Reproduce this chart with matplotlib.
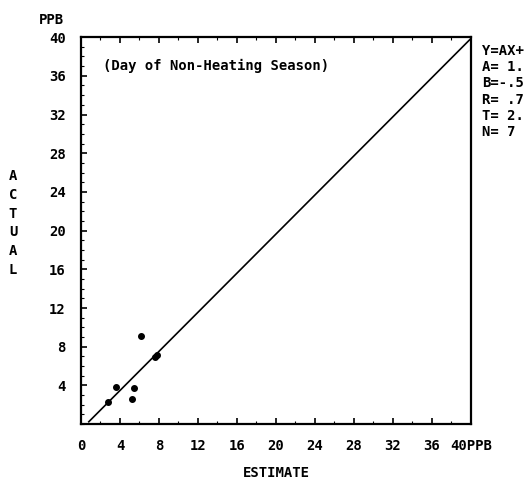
import matplotlib
matplotlib.use("Agg")
import matplotlib.pyplot as plt
import numpy as np

# observed vs estimated concentration (ppb)
estimate = [2.8, 3.6, 5.4, 5.2, 6.2, 7.6, 7.8]
actual = [2.3, 3.8, 3.75, 2.6, 9.1, 6.9, 7.1]

# regression fit
slope_a = 1.01
intercept_b = -0.56
fit_x = [0.8, 40]

x_ticks = [0, 4, 8, 12, 16, 20, 24, 28, 32, 36, 40]
x_labels = ["0", "4", "8", "12", "16", "20", "24", "28", "32", "36", "40PPB"]
y_ticks = [4, 8, 12, 16, 20, 24, 28, 32, 36, 40]
y_labels = ["4", "8", "12", "16", "20", "24", "28", "32", "36", "40"]
# regression block, as far as it shows at the page edge
stats_lines = ["Y=AX+", "A= 1.", "B=-.5", "R= .7", "T= 2.", "N= 7"]

FONT = "DejaVu Sans Mono"

fig = plt.figure(figsize=(5.26, 4.82), dpi=100)
ax = fig.add_axes([0.154, 0.120, 0.741, 0.803])

ax.scatter(estimate, actual, s=16, color="black", zorder=3)
fx = np.array(fit_x)
ax.plot(fx, slope_a * fx + intercept_b, color="black", linewidth=1.2)

ax.set_xlim(0, 40)
ax.set_ylim(0, 40)
ax.set_xticks(x_ticks)
ax.set_xticklabels(x_labels, family=FONT, fontweight="bold", fontsize=10)
ax.set_yticks(y_ticks)
ax.set_yticklabels(y_labels, family=FONT, fontweight="bold", fontsize=10)
ax.tick_params(direction="in", top=True, right=False, length=4, width=1.2, pad=11)
ax.set_xticks(np.arange(0, 41, 2), minor=True)
ax.set_yticks(np.arange(0, 41, 1), minor=True)
ax.tick_params(which="minor", direction="in", top=True, length=2, width=0.8)
for sp in ax.spines.values():
    sp.set_linewidth(1.6)

ax.text(2.25, 37.0, "(Day of Non-Heating Season)", family=FONT, fontweight="bold",
        fontsize=10, va="center")

fig.text(51 / 526, 1 - 20 / 482, "PPB", family=FONT, fontweight="bold", fontsize=10,
         ha="center", va="center")
fig.text(13 / 526, 1 - 223 / 482, "A\nC\nT\nU\nA\nL", family=FONT, fontweight="bold",
         fontsize=10, ha="center", va="center", linespacing=1.45)
ax.set_xlabel("ESTIMATE", family=FONT, fontweight="bold", fontsize=10, labelpad=9)

fig.text(482 / 526, 1 - 44 / 482, "\n".join(stats_lines), family=FONT, fontweight="bold",
         fontsize=10, ha="left", va="top", linespacing=1.2)

fig.savefig("out.png", dpi=100, facecolor="white")
